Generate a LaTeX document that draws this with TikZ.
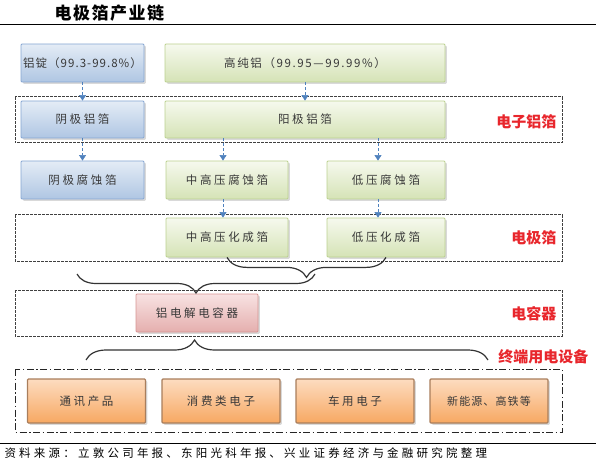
\documentclass[tikz,border=0pt]{standalone}
\usepackage{fontspec}
\setmainfont{Noto Sans CJK SC}
\usetikzlibrary{shadows,arrows.meta,decorations.pathreplacing}
\definecolor{boxtext}{HTML}{383838}
\definecolor{bluetop}{HTML}{E4ECF6}
\definecolor{bluebot}{HTML}{AFC6E3}
\definecolor{blueline}{HTML}{86A6D2}
\definecolor{greentop}{HTML}{F6F9EE}
\definecolor{greenbot}{HTML}{D5E3B6}
\definecolor{greenline}{HTML}{BCD190}
\definecolor{pinktop}{HTML}{F8E2E2}
\definecolor{pinkbot}{HTML}{E5AFAE}
\definecolor{pinkline}{HTML}{D69593}
\definecolor{orgtop}{HTML}{FDDCC0}
\definecolor{orgbot}{HTML}{F7A862}
\definecolor{orgline}{HTML}{A97E5C}
\definecolor{flowblue}{HTML}{4F81BD}
\definecolor{tagred}{HTML}{E8262C}
\begin{document}
\begin{tikzpicture}[x=1pt,y=-1pt,
  box/.style={draw,rounded corners=1pt,line width=0.8pt,text=boxtext,inner sep=0pt,
    minimum height=38pt,font=\fontsize{11.5}{13}\selectfont\addfontfeature{LetterSpace=23},
    drop shadow={opacity=0.3,shadow xshift=1.8pt,shadow yshift=-1.8pt}},
  bluebox/.style={box,top color=bluetop,bottom color=bluebot,draw=blueline},
  greenbox/.style={box,top color=greentop,bottom color=greenbot,draw=greenline},
  pinkbox/.style={box,top color=pinktop,bottom color=pinkbot,draw=pinkline},
  orgbox/.style={box,top color=orgtop,bottom color=orgbot,draw=orgline,line width=1.3pt,minimum height=44pt,minimum width=118pt},
  frame/.style={draw=black!75,line width=1pt,dash pattern=on 3pt off 1pt},
  tag/.style={anchor=east,text=tagred,font=\fontsize{15}{16}\selectfont\bfseries},
  flow/.style={draw=flowblue,line width=0.6pt,densely dashed,-{Triangle[width=7pt,length=5.5pt]}},
  brc/.style={draw=black!80,line width=1.2pt,decorate}]
\useasboundingbox (0,0) rectangle (596,462);

\node[anchor=west,font=\fontsize{17}{18}\selectfont\bfseries\addfontfeature{LetterSpace=9}] (title) at (51,13) {电极箔产业链};
\draw[line width=0.8pt] (0,24) -- (596,24);

\draw[frame] (15,97) rectangle (562,143);
\draw[frame] (15,215) rectangle (562,261);
\draw[frame] (15,290) rectangle (562,336);
\draw[draw=black!85,line width=1pt,dash pattern=on 7pt off 2.5pt on 1.5pt off 2.5pt] (15,369) rectangle (562,432);

\node[bluebox,minimum width=123pt,font=\fontsize{11.5}{13}\selectfont\addfontfeature{LetterSpace=9}] (ingot) at (82.5,63) {铝锭（99.3-99.8\%）};
\node[greenbox,minimum width=280pt,font=\fontsize{11.5}{13}\selectfont\addfontfeature{LetterSpace=14}] (hpal) at (305,63) {高纯铝（99.95—99.99\%）};
\node[bluebox,minimum width=123pt,minimum height=37pt] (cathfoil) at (82.5,119.5) {阴极铝箔};
\node[greenbox,minimum width=280pt,minimum height=37pt] (anodfoil) at (305,119.5) {阳极铝箔};
\node[bluebox,minimum width=123pt] (cathetch) at (82.5,180) {阴极腐蚀箔};
\node[greenbox,minimum width=122pt] (mhetch) at (227,180) {中高压腐蚀箔};
\node[greenbox,minimum width=118pt] (lvetch) at (386,180) {低压腐蚀箔};
\node[greenbox,minimum width=122pt,minimum height=39pt] (mhform) at (227,237.5) {中高压化成箔};
\node[greenbox,minimum width=118pt,minimum height=39pt] (lvform) at (386,237.5) {低压化成箔};
\node[pinkbox,minimum width=122pt] (capac) at (197,313) {铝电解电容器};
\node[orgbox] (comm) at (86.5,401) {通讯产品};
\node[orgbox] (cons) at (221,401) {消费类电子};
\node[orgbox] (auto) at (355,401) {车用电子};
\node[orgbox,font=\fontsize{11}{13}\selectfont\addfontfeature{LetterSpace=10}] (newen) at (489,401) {新能源、高铁等};

\node[tag] (t1) at (560,122) {电子铝箔};
\node[tag] (t2) at (560,238) {电极箔};
\node[tag] (t3) at (560,314) {电容器};
\node[tag] (t4) at (592,357) {终端用电设备};

\draw[flow] (ingot) -- (cathfoil);
\draw[flow] (hpal) -- (anodfoil);
\draw[flow] (cathfoil) -- (cathetch);
\draw[flow] ([xshift=-4pt]anodfoil.south -| mhetch.north) -- ([xshift=-4pt]mhetch.north);
\draw[flow] ([xshift=-8pt]anodfoil.south -| lvetch.north) -- ([xshift=-8pt]lvetch.north);
\draw[flow] ([xshift=-4pt]mhetch.south) -- ([xshift=-4pt]mhform.north);
\draw[flow] ([xshift=-8pt]lvetch.south) -- ([xshift=-8pt]lvform.north);

\coordinate (bl) at (77,274);
\coordinate (br) at (315,274);
\coordinate (el) at (86,360);
\coordinate (er) at (488,360);
\draw[brc,decoration={brace,mirror,amplitude=20pt}] (mhform.south) -- (lvform.south);
\draw[brc,decoration={brace,mirror,amplitude=19pt}] (bl) -- (br);
\draw[brc,decoration={brace,amplitude=20pt,aspect=0.27}] (el) -- (er);

\draw[line width=0.8pt] (0,443) -- (596,443);
\node[anchor=west,font=\fontsize{11.5}{13}\selectfont\addfontfeature{LetterSpace=28}] (src) at (1,453) {资料来源：立敦公司年报、东阳光科年报、兴业证券经济与金融研究院整理};
\end{tikzpicture}
\end{document}
